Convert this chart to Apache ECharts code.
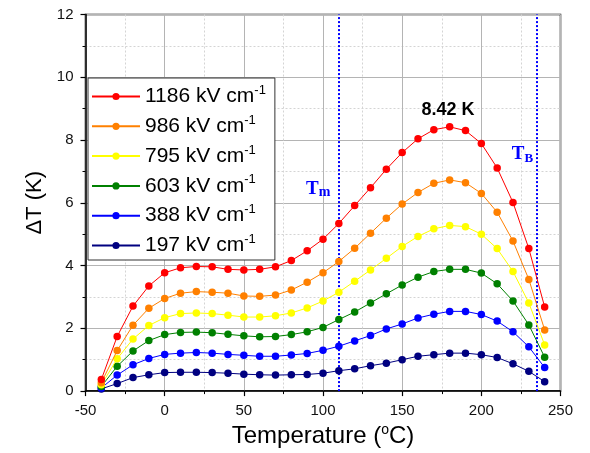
<!DOCTYPE html>
<html><head><meta charset="utf-8">
<script src="https://cdn.jsdelivr.net/npm/echarts@6/dist/echarts.min.js"></script>
<style>html,body{margin:0;padding:0;background:#fff}#c{width:590px;height:453px}</style>
</head><body><div id="c"></div>
<script>
const temperatures = [-40,-30,-20,-10,0,10,20,30,40,50,60,70,80,90,100,110,120,130,140,150,160,170,180,190,200,210,220,230,240];
const seriesNames = ['1186 kV cm','986 kV cm','795 kV cm','603 kV cm','388 kV cm','197 kV cm'];
const dT1186 = [0.37,1.74,2.71,3.35,3.77,3.93,3.97,3.96,3.88,3.86,3.88,3.96,4.16,4.47,4.84,5.34,5.91,6.48,7.07,7.60,8.04,8.33,8.42,8.30,7.89,7.11,6.01,4.54,2.68];
const dT986  = [0.27,1.29,2.10,2.64,2.95,3.12,3.17,3.15,3.12,3.03,3.02,3.06,3.22,3.47,3.77,4.13,4.55,5.03,5.51,5.96,6.33,6.62,6.73,6.64,6.30,5.70,4.78,3.56,1.95];
const dT795  = [0.20,1.03,1.66,2.09,2.34,2.47,2.49,2.47,2.42,2.36,2.36,2.40,2.49,2.65,2.87,3.15,3.50,3.86,4.23,4.61,4.93,5.17,5.28,5.24,5.00,4.54,3.81,2.81,1.47];
const dT603  = [0.15,0.79,1.28,1.61,1.80,1.87,1.88,1.86,1.81,1.76,1.73,1.74,1.80,1.89,2.03,2.28,2.52,2.81,3.10,3.38,3.63,3.81,3.88,3.88,3.76,3.42,2.87,2.11,1.08];
const dT388  = [0.10,0.51,0.84,1.04,1.17,1.21,1.23,1.21,1.17,1.14,1.11,1.11,1.15,1.20,1.30,1.43,1.60,1.77,1.98,2.14,2.33,2.45,2.54,2.54,2.44,2.23,1.89,1.41,0.75];
const dT197  = [0.07,0.24,0.43,0.52,0.59,0.60,0.60,0.59,0.57,0.54,0.52,0.51,0.52,0.53,0.57,0.65,0.71,0.81,0.89,1.00,1.11,1.16,1.21,1.21,1.16,1.07,0.87,0.63,0.30];
const seriesValues = [dT1186, dT986, dT795, dT603, dT388, dT197];
const seriesColors = ['#ff0000','#ff8000','#ffff00','#008000','#0000ff','#000080'];
const xTicks = {min:-50, max:250, interval:50};
const yTicks = {min:0, max:12, interval:2};
const Tm = 110, TB = 235;
const peakLabel = '8.42 K';
const peakLabelPos = [179, 8.95];
const TmLabelPos = [97, 6.45];
const TBLabelPos = [226, 7.55];

const sans = '"Liberation Sans", Arial, sans-serif';
const serif = '"Liberation Serif", "Times New Roman", serif';

const series = seriesNames.map((name, i) => ({
  name: name,
  type: 'line',
  data: temperatures.map((t, j) => [t, seriesValues[i][j]]),
  symbol: 'circle',
  symbolSize: 7.5,
  color: seriesColors[i],
  lineStyle: {width: 1, color: seriesColors[i]},
  itemStyle: {color: seriesColors[i]},
  z: 10 - i
}));

series[0].markLine = {
  silent: true,
  symbol: 'none',
  label: {show: false},
  lineStyle: {color: '#0000ff', type: [2, 2], width: 2},
  data: [{xAxis: Tm}, {xAxis: TB}]
};
series[0].markPoint = {
  silent: true,
  symbol: 'circle',
  symbolSize: 1,
  itemStyle: {color: 'rgba(0,0,0,0)'},
  data: [
    {coord: peakLabelPos, label: {show: true, position: 'inside', formatter: peakLabel, color: '#000', fontWeight: 'bold', fontSize: 18, fontFamily: sans}},
    {coord: TmLabelPos, label: {show: true, position: 'inside', formatter: '{t|T}{s|m}', rich: {
      t: {fontFamily: serif, fontWeight: 'bold', fontSize: 19, color: '#0000ff'},
      s: {fontFamily: serif, fontWeight: 'bold', fontSize: 14, color: '#0000ff', padding: [8, 0, 0, 0]}
    }}},
    {coord: TBLabelPos, label: {show: true, position: 'inside', formatter: '{t|T}{s|B}', rich: {
      t: {fontFamily: serif, fontWeight: 'bold', fontSize: 19, color: '#0000ff'},
      s: {fontFamily: serif, fontWeight: 'bold', fontSize: 13, color: '#0000ff', padding: [8, 0, 0, 0]}
    }}}
  ]
};

const chart = echarts.init(document.getElementById('c'), null, {renderer: 'canvas'});
chart.setOption({
  animation: false,
  backgroundColor: '#fff',
  grid: {left: 85.5, right: 29.5, top: 14.5, bottom: 58, show: true, borderColor: '#000', borderWidth: 1.5, backgroundColor: 'transparent'},
  legend: {
    orient: 'vertical',
    left: 88, top: 78,
    padding: [6, 9, 4, 3],
    itemWidth: 48, itemHeight: 9,
    itemGap: 6.8,
    backgroundColor: '#fff',
    borderColor: '#333', borderWidth: 1,
    borderRadius: 0,
    data: seriesNames,
    formatter: n => '{n|' + n + '}{s|-1}',
    textStyle: {
      color: '#000', fontFamily: sans, fontSize: 21,
      rich: {
        n: {fontFamily: sans, fontSize: 21, color: '#000', lineHeight: 24},
        s: {fontFamily: sans, fontSize: 13, color: '#000', padding: [0, 0, 12, 0]}
      }
    }
  },
  xAxis: {
    type: 'value', min: xTicks.min, max: xTicks.max, interval: xTicks.interval,
    name: 'Temperature ({o|o}C)', nameLocation: 'middle', nameGap: 31,
    nameTextStyle: {fontFamily: sans, fontSize: 24, color: '#000', rich: {o: {fontFamily: sans, fontSize: 14, color: '#000', padding: [0, 0, 12, 0]}}},
    axisLine: {show: true, onZero: false, lineStyle: {color: '#000', width: 1.5}},
    axisTick: {show: true, inside: false, length: 5, lineStyle: {color: '#000', width: 1.2}},
    minorTick: {show: true, splitNumber: 2, length: 3, lineStyle: {color: '#000', width: 1}},
    axisLabel: {fontFamily: sans, fontSize: 15, color: '#111', margin: 12},
    splitLine: {show: true, lineStyle: {color: '#b4b4b4', width: 1}},
    minorSplitLine: {show: true, lineStyle: {color: '#d4d4d4', width: 1, type: [2, 2]}}
  },
  yAxis: {
    type: 'value', min: yTicks.min, max: yTicks.max, interval: yTicks.interval,
    name: '\u0394T (K)', nameLocation: 'middle', nameGap: 36, nameRotate: 90,
    nameTextStyle: {fontFamily: sans, fontSize: 22, color: '#000'},
    axisLine: {show: true, onZero: false, lineStyle: {color: '#000', width: 1.5}},
    axisTick: {show: true, inside: false, length: 5, lineStyle: {color: '#000', width: 1.2}},
    minorTick: {show: true, splitNumber: 2, length: 3, lineStyle: {color: '#000', width: 1}},
    axisLabel: {fontFamily: sans, fontSize: 15, color: '#111', margin: 12},
    splitLine: {show: true, lineStyle: {color: '#b4b4b4', width: 1}},
    minorSplitLine: {show: true, lineStyle: {color: '#d4d4d4', width: 1, type: [2, 2]}}
  },
  series: series
});
</script>
</body></html>
